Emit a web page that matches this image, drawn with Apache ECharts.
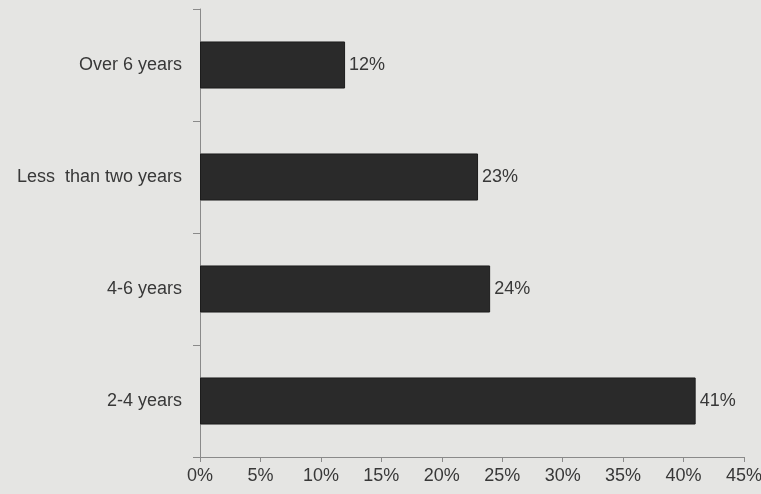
<!DOCTYPE html>
<html>
<head>
<meta charset="utf-8">
<script src="https://cdn.jsdelivr.net/npm/echarts@6/dist/echarts.min.js"></script>
<style>
  html, body { margin: 0; padding: 0; background: #e5e5e3; }
  #chart { width: 761px; height: 494px; }
</style>
</head>
<body>
<div id="chart"></div>
<script>
// Years of experience, listed bottom to top
const categories = ['2-4 years', '4-6 years', 'Less  than two years', 'Over 6 years'];
const shares = [41, 24, 23, 12];
const tickMax = 45;
const tickStep = 5;

const chart = echarts.init(document.getElementById('chart'));
const textStyle = { fontFamily: 'Liberation Sans, Arial, sans-serif', fontSize: 18, color: '#383838' };

chart.setOption({
  backgroundColor: '#e5e5e3',
  animation: false,
  grid: { left: 200, right: 17, top: 9, bottom: 37, containLabel: false, outerBoundsMode: 'none' },
  xAxis: {
    type: 'value',
    min: 0,
    max: tickMax,
    interval: tickStep,
    axisLine: { show: true, lineStyle: { color: '#8a8a8a', width: 1 } },
    axisTick: { show: true, length: 5, lineStyle: { color: '#8a8a8a' } },
    splitLine: { show: false },
    axisLabel: Object.assign({ margin: 10, formatter: v => v + '%' }, textStyle)
  },
  yAxis: {
    type: 'category',
    data: categories,
    axisLine: { show: true, lineStyle: { color: '#8a8a8a', width: 1 } },
    axisTick: { show: true, length: 7, lineStyle: { color: '#8a8a8a' } },
    axisLabel: Object.assign({ margin: 18 }, textStyle)
  },
  series: [{
    type: 'bar',
    data: shares,
    barCategoryGap: '58%',
    itemStyle: { color: '#2a2a2a', borderColor: '#1c1c1c', borderWidth: 1 },
    label: Object.assign({ show: true, position: 'right', distance: 4, formatter: p => p.value + '%' }, textStyle)
  }]
});
</script>
</body>
</html>
